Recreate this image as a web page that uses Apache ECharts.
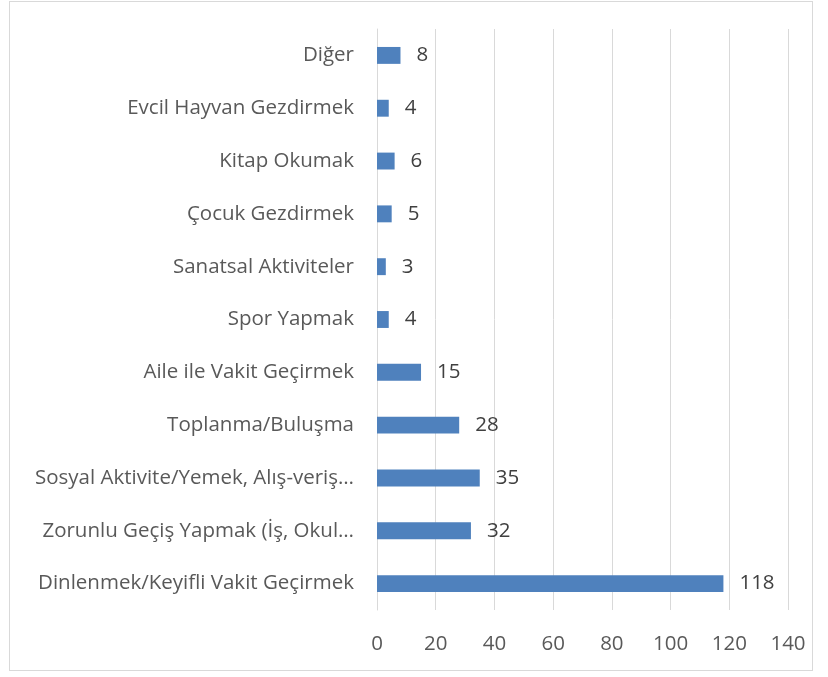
<!DOCTYPE html>
<html>
<head>
<meta charset="utf-8">
<script src="https://cdn.jsdelivr.net/npm/echarts@6/dist/echarts.min.js"></script>
<style>
  html, body { margin: 0; padding: 0; background: #fff; }
  #frame {
    position: absolute; left: 9px; top: 1px; width: 804px; height: 670px;
    border: 1px solid #d9d9d9; box-sizing: border-box;
  }
  #chart { position: absolute; left: 0; top: 0; width: 828px; height: 677px; }
</style>
</head>
<body>
<div id="frame"></div>
<div id="chart"></div>
<script>
  // bottom to top, like the picture
  const categories = [
    'Dinlenmek/Keyifli Vakit Geçirmek',
    'Zorunlu Geçiş Yapmak (İş, Okul…',
    'Sosyal Aktivite/Yemek, Alış-veriş…',
    'Toplanma/Buluşma',
    'Aile ile Vakit Geçirmek',
    'Spor Yapmak',
    'Sanatsal Aktiviteler',
    'Çocuk Gezdirmek',
    'Kitap Okumak',
    'Evcil Hayvan Gezdirmek',
    'Diğer'
  ]
  const values = [118, 32, 35, 28, 15, 4, 3, 5, 6, 4, 8]

  const font = 'Open Sans'
  const chart = echarts.init(document.getElementById('chart'), null, { renderer: 'canvas' })
  chart.setOption({
    animation: false,
    grid: { left: 377, right: 40, top: 29, bottom: 67, containLabel: false },
    xAxis: {
      type: 'value',
      min: 0,
      max: 140,
      interval: 20,
      axisLine: { show: false },
      axisTick: { show: false },
      splitLine: { lineStyle: { color: '#d9d9d9', width: 1 } },
      axisLabel: { color: '#595959', fontFamily: font, fontSize: 20.5, margin: 24 }
    },
    yAxis: {
      type: 'category',
      data: categories,
      axisLine: { show: true, lineStyle: { color: '#d9d9d9' } },
      axisTick: { show: false },
      axisLabel: { color: '#595959', fontFamily: font, fontSize: 20.5, margin: 23, padding: [3, 0, 0, 0] }
    },
    series: [{
      type: 'bar',
      data: values,
      barCategoryGap: '68%',
      itemStyle: { color: '#4f81bd' },
      label: {
        show: true,
        position: 'right',
        distance: 16,
        color: '#404040',
        fontFamily: font,
        fontSize: 20.5,
        padding: [3, 0, 0, 0]
      }
    }]
  })
</script>
</body>
</html>
